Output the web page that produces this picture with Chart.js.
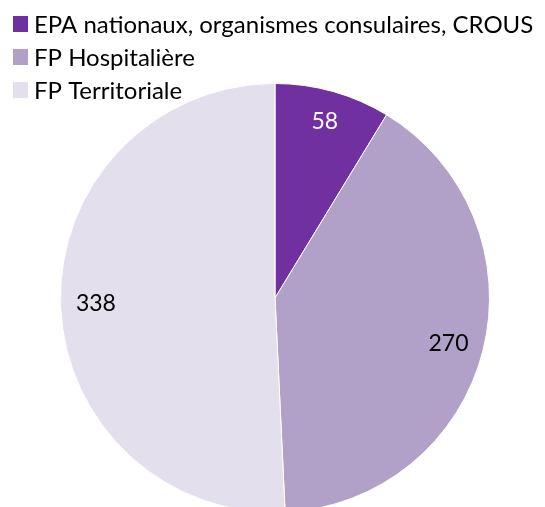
<!DOCTYPE html>
<html>
<head>
<meta charset="utf-8">
<script src="https://cdn.jsdelivr.net/npm/chart.js@4"></script>
<style>
  html, body { margin: 0; padding: 0; background: #fff; overflow: hidden; }
  #wrap { position: relative; width: 545px; height: 514px; }
</style>
</head>
<body>
<div id="wrap"><canvas id="pie"></canvas></div>
<script>
const categories = ["EPA nationaux, organismes consulaires, CROUS", "FP Hospitalière", "FP Territoriale"];
const values = [58, 270, 338];
const colors = ["#7030A0", "#B1A0C7", "#E4DFEC"];
const labelColors = ["#ffffff", "#000000", "#000000"];

const FONT = "Lato, 'Open Sans', sans-serif";

// legend drawn as a left-aligned vertical list in the top corner
const sideLegend = {
  id: "sideLegend",
  afterDraw(chart) {
    const ctx = chart.ctx;
    ctx.save();
    ctx.font = "24px " + FONT;
    ctx.textBaseline = "middle";
    ctx.textAlign = "left";
    categories.forEach((name, i) => {
      const y = 24 + i * 33;
      ctx.fillStyle = colors[i];
      ctx.fillRect(13, y - 8, 15, 16);
      ctx.fillStyle = "#000";
      ctx.fillText(name, 34, y + 1);
    });
    ctx.restore();
  }
};

// value labels placed inside each slice
const sliceLabels = {
  id: "sliceLabels",
  afterDatasetsDraw(chart) {
    const ctx = chart.ctx;
    const meta = chart.getDatasetMeta(0);
    ctx.save();
    ctx.font = "23px " + FONT;
    ctx.textAlign = "center";
    ctx.textBaseline = "middle";
    meta.data.forEach((arc, i) => {
      const p = arc.getProps(["x", "y", "startAngle", "endAngle", "outerRadius"], true);
      const mid = (p.startAngle + p.endAngle) / 2;
      const r = p.outerRadius * (i === 0 ? 0.86 : 0.835);
      ctx.fillStyle = labelColors[i];
      ctx.fillText(String(values[i]), p.x + Math.cos(mid) * r, p.y + Math.sin(mid) * r + 1);
    });
    ctx.restore();
  }
};

new Chart(document.getElementById("pie"), {
  type: "pie",
  data: {
    labels: categories,
    datasets: [{
      data: values,
      backgroundColor: colors,
      borderColor: "#ffffff",
      borderWidth: 1
    }]
  },
  options: {
    responsive: true,
    maintainAspectRatio: false,
    animation: false,
    layout: { padding: { left: 60, right: 55, top: 83, bottom: 1 } },
    plugins: {
      legend: { display: false },
      tooltip: { enabled: false }
    }
  },
  plugins: [sliceLabels, sideLegend]
});
</script>
</body>
</html>
